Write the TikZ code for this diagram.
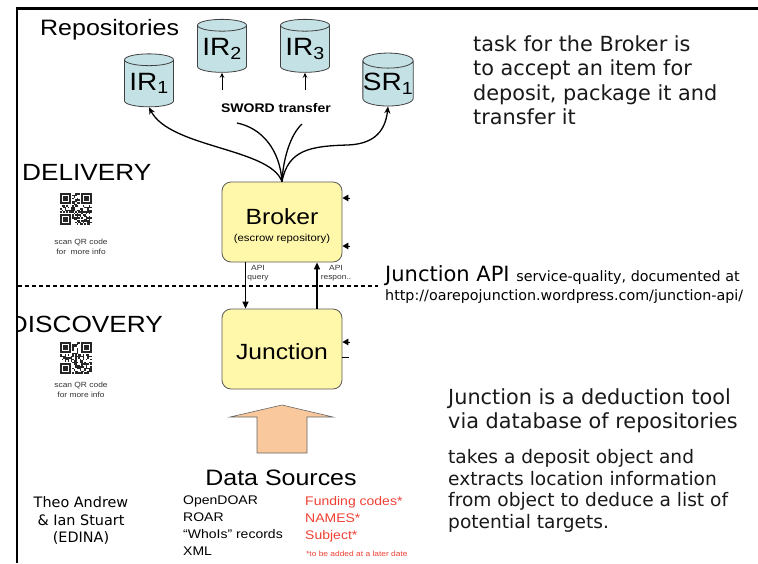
\documentclass[tikz,border=0pt]{standalone}
\usepackage{fontspec}
\setmainfont{Liberation Sans}[FakeStretch=1.12]
\newfontfamily\verd{DejaVu Sans}
\usetikzlibrary{shapes.geometric,arrows.meta}
\definecolor{cylfill}{RGB}{196,226,229}
\definecolor{boxfill}{RGB}{255,248,170}
\definecolor{peach}{RGB}{249,200,156}
\definecolor{redtxt}{RGB}{240,64,52}
\newcommand\fs[2]{\fontsize{#1}{#2}\selectfont}
\newcommand\myqr[2]{%
  \begin{scope}[shift={(#1,#2)}]
    \foreach \i in {0,...,20}{\foreach \j in {0,...,20}{%
      \pgfmathsetmacro\rr{rnd}%
      \ifdim\rr pt<0.5pt \fill[black!85] (\i*1.52,\j*1.52) rectangle ++(1.52,1.52);\fi}}
    \foreach \a/\b/\wa/\wb in {0/0/0/0,14/0/13/0,0/14/0/13}{%
      \fill[white] (\wa*1.52,\wb*1.52) rectangle ++(8*1.52,8*1.52);
      \fill[black!85] (\a*1.52,\b*1.52) rectangle ++(7*1.52,7*1.52);
      \fill[white] (\a*1.52+1.52,\b*1.52+1.52) rectangle ++(5*1.52,5*1.52);
      \fill[black!85] (\a*1.52+3.04,\b*1.52+3.04) rectangle ++(3*1.52,3*1.52);}
  \end{scope}}
\begin{document}
\begin{tikzpicture}[x=1pt,y=-1pt,
  repo/.style={cylinder, shape border rotate=90, aspect=0.3, draw=black!75, fill=cylfill,
    line width=0.8pt, minimum width=49pt, minimum height=53pt, inner sep=0pt, font=\fs{25}{25}},
  procbox/.style={rounded corners=9pt, draw=black!65, fill=boxfill, line width=0.8pt,
    minimum width=120pt, minimum height=80pt},
  link/.style={line width=1.3pt, -{Stealth[length=7pt,width=6pt]}},
  wire/.style={line width=1.3pt},
  apiarrow/.style={line width=1.3pt, -{Triangle[length=7pt,width=6pt]}},
  stub/.style={line width=1pt, -{Triangle[length=6pt,width=6.5pt]}},
  small/.style={font=\fs{7.5}{9.5}, text=black!80, align=center, inner sep=0pt},
  verdtext/.style={font=\verd\fs{20.8}{24.5}, align=left, inner sep=0pt, text=black!90},
  ]
\useasboundingbox (0,0) rectangle (758,563);
\fill[white] (0,0) rectangle (758,563);

% repositories
\node[anchor=base west, font=\fs{22.3}{24}, inner sep=0pt] (repos) at (40,35) {Repositories};
\node[repo] (ir1) at (149,83.5) {IR\textsubscript{1}};
\node[repo] (ir2) at (222,49) {IR\textsubscript{2}};
\node[repo] (ir3) at (305,49) {IR\textsubscript{3}};
\node[repo] (sr1) at (388,83.5) {SR\textsubscript{1}};
\node[font=\bfseries\fs{12.5}{14}, inner sep=0pt] (sword) at (276,108) {SWORD transfer};

% broker & junction
\node[procbox] (broker) at (282,222) {};
\node[anchor=base, font=\fs{22}{24}, inner sep=0pt] (brokerlbl) at (282,224) {Broker};
\node[anchor=base, font=\fs{10.1}{12}, inner sep=0pt] (escrow) at (282,241) {(escrow repository)};
\node[procbox] (junction) at (282,349) {};
\node[anchor=base, font=\fs{22}{24}, inner sep=0pt] (junctionlbl) at (282,359) {Junction};

% connectors to repositories
\coordinate (bend) at (348,145);
\draw[link] (broker.north) .. controls (270,148) and (170,148) .. (ir1.south);
\draw[link] (broker.north) .. controls (288,150) and (310,146) .. (bend) .. controls (370,144) and (385,135) .. (sr1.south);
\coordinate (sw1) at (237,123);
\coordinate (sw2) at (302,124);
\draw[wire] (sw1) .. controls (262,128) and (280,150) .. (broker.north);
\draw[wire] (sw2) .. controls (290,135) and (283,160) .. (broker.north);
\coordinate (a2) at (222,90);
\coordinate (a3) at (305,90);
\draw[line width=1pt, -{Stealth[length=5pt,width=4.5pt]}] (a2) -- (ir2.south);
\draw[line width=1pt, -{Stealth[length=5pt,width=4.5pt]}] (a3) -- (ir3.south);

% API arrows
\coordinate (qx) at (245.5,300);
\coordinate (rx) at (317,300);
\draw[apiarrow] (broker.south -| qx) -- (junction.north -| qx);
\draw[apiarrow] (junction.north -| rx) -- (broker.south -| rx);
\node[small, anchor=north] (apiq) at (258,265) {API\\query};
\node[small, anchor=north] (apir) at (336,265) {API\\respon..};

% side stubs
\coordinate (s1) at (350,198);
\coordinate (s2) at (350,246);
\coordinate (s3) at (350,342);
\coordinate (s4) at (349,357);
\draw[stub] (s1) -- (s1 -| broker.east);
\draw[stub] (s2) -- (s2 -| broker.east);
\draw[stub] (s3) -- (s3 -| junction.east);
\draw[line width=1pt] (s4) -- (s4 -| junction.east);

% dashed divider
\coordinate (dl) at (18,286);
\coordinate (dr) at (378,286);
\draw[line width=1.2pt, dash pattern=on 4pt off 3pt] (dl) -- (dr);

% Junction API text
\node[anchor=base west, inner sep=0pt, font=\verd\fs{21}{24}] (japi) at (385,281)
  {Junction API {\fs{14.3}{17}service-quality, documented at}};
\node[anchor=base west, inner sep=0pt, font=\verd\fs{14.3}{17}] (url) at (385,300)
  {http://oarepojunction.wordpress.com/junction-api/};

% section labels
\node[anchor=base west, font=\fs{23.4}{26}, inner sep=0pt] (delivery) at (22,180) {DELIVERY};
\node[anchor=base east, font=\fs{23.4}{26}, inner sep=0pt] (discovery) at (163,332) {DISCOVERY};

% QR codes
\pgfmathsetseed{7}
\myqr{60}{193}
\pgfmathsetseed{19}
\myqr{60}{342}
\node[small, anchor=north] (scan1) at (81,239) {scan QR code\\for\ \ more info};
\node[small, anchor=north] (scan2) at (81,382) {scan QR code\\for more info};

% big arrow
\draw[fill=peach, draw=black!60, line width=0.6pt]
  (282,405) -- (333,417) -- (307,417) -- (307,453) -- (257,453) -- (257,417) -- (230,417) -- cycle;

% data sources
\node[anchor=base, font=\fs{22.3}{24}, inner sep=0pt] (ds) at (281,485) {Data Sources};
\node[anchor=north west, font=\fs{12.5}{17}, inner sep=0pt, align=left] (dsl) at (183,495.8)
  {OpenDOAR\\ROAR\\“WhoIs” records\\XML};
\node[anchor=north west, font=\fs{12.5}{17}, inner sep=0pt, align=left, text=redtxt] (dsr) at (305,495.8)
  {Funding codes*\\NAMES*\\Subject*};
\node[anchor=base west, font=\fs{7.5}{9}, inner sep=0pt, text=redtxt] (later) at (306,556)
  {*to be added at a later date};

% authors
\node[anchor=north, font=\verd\fs{14.4}{17.5}, inner sep=0pt, align=center] (authors) at (81,496.5)
  {Theo Andrew\\\& Ian Stuart\\(EDINA)};

% right-hand text
\node[verdtext, anchor=north west] (task) at (473,35)
  {task for the Broker is\\to accept an item for\\deposit, package it and\\transfer it};
\node[verdtext, anchor=north west] (jtool) at (448,388)
  {Junction is a deduction tool\\via database of repositories};
\node[verdtext, anchor=north west, font=\verd\fs{18.6}{21.8}] (takes) at (448,449)
  {takes a deposit object and\\extracts location information\\from object to deduce a list of\\potential targets.};

% frame
\fill[white] (0,0) rectangle (16,563);
\draw[line width=2.2pt, line join=miter] (758,8.5) -- (17,8.5) -- (17,563);
\end{tikzpicture}
\end{document}
